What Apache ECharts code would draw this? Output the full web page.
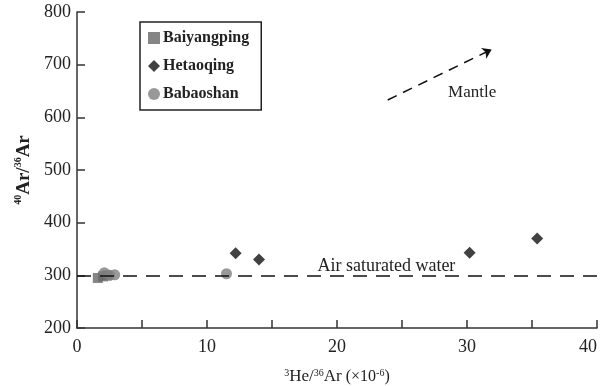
<!DOCTYPE html>
<html>
<head>
<meta charset="utf-8">
<script src="https://cdn.jsdelivr.net/npm/echarts@6/dist/echarts.min.js"></script>
<style>
  html, body { margin: 0; padding: 0; background: #fff; }
  #chart { width: 606px; height: 386px; }
</style>
</head>
<body>
<div id="chart"></div>
<script>
// 数据
const baiyangpingX = [1.6, 2.0, 2.3];
const baiyangpingY = [295, 298, 300];
const hetaoqingX = [12.2, 14.0, 30.2, 35.4];
const hetaoqingY = [342, 330, 343, 370];
const babaoshanX = [2.1, 2.5, 2.9, 11.5];
const babaoshanY = [305, 300, 301, 303];

const xTicks = [0, 10, 20, 30, 40];
const yTicks = [200, 300, 400, 500, 600, 700, 800];
const airWater = 300;
const mantleArrow = [[23.9, 633], [31.9, 729]];

const font = '"Liberation Serif", "DejaVu Serif", serif';
const diamond = 'path://M0,-10 L10,0 L0,10 L-10,0 Z';

function pairs(xs, ys) {
  return xs.map((x, i) => [x, ys[i]]);
}

const chart = echarts.init(document.getElementById('chart'));
const options = {
  animation: false,
  backgroundColor: '#fff',
  grid: { left: 77, right: 9, top: 12, bottom: 58, outerBoundsMode: 'none' },
  legend: {
    orient: 'vertical',
    left: 140,
    top: 22,
    width: 117,
    padding: [8, 12, 8, 8],
    itemGap: 12,
    itemWidth: 12,
    itemHeight: 12,
    borderColor: '#222',
    borderWidth: 1.5,
    textStyle: { fontFamily: font, fontSize: 16, fontWeight: 'bold', color: '#222', padding: [0, 0, 0, -2] },
    data: ['Baiyangping', 'Hetaoqing', 'Babaoshan'],
  },
  xAxis: {
    type: 'value',
    min: xTicks[0],
    max: xTicks[xTicks.length - 1],
    interval: 10,
    minorTick: { show: true, splitNumber: 2, length: 8, lineStyle: { color: '#333', width: 1.5 } },
    axisLine: { lineStyle: { color: '#333', width: 1.5 } },
    axisTick: { inside: true, length: 8, lineStyle: { color: '#333', width: 1.5 } },
    axisLabel: { color: '#222', fontFamily: font, fontSize: 18, margin: 10, alignMaxLabel: 'right' },
    splitLine: { show: false },
    name: '{s|3}He/{s|36}Ar{n| (×10}{s|-6}{n|)}',
    nameLocation: 'middle',
    nameGap: 40,
    nameTextStyle: {
      color: '#222', fontFamily: font, fontSize: 17,
      rich: {
        s: { fontFamily: font, fontSize: 10, verticalAlign: 'top', color: '#222', padding: [0, 0, 6, 0] },
        n: { fontFamily: font, fontSize: 16, color: '#222' },
      },
    },
  },
  yAxis: {
    type: 'value',
    min: yTicks[0],
    max: yTicks[yTicks.length - 1],
    interval: 100,
    axisLine: { lineStyle: { color: '#333', width: 1.5 } },
    axisTick: { inside: true, length: 8, lineStyle: { color: '#333', width: 1.5 } },
    axisLabel: { color: '#222', fontFamily: font, fontSize: 18, margin: 6 },
    splitLine: { show: false },
    name: '{s|40}{b|Ar/}{s|36}{b|Ar}',
    nameLocation: 'middle',
    nameRotate: 90,
    nameGap: 43,
    nameTextStyle: {
      color: '#222', fontFamily: font, fontSize: 18,
      rich: {
        s: { fontFamily: font, fontSize: 10, fontWeight: 'bold', color: '#222', padding: [0, 0, 10, 0] },
        b: { fontFamily: font, fontSize: 19, fontWeight: 'bold', color: '#222' },
      },
    },
  },
  series: [
    {
      name: 'Air saturated water',
      type: 'line',
      data: [],
      markLine: {
        silent: true,
        symbol: 'none',
        lineStyle: { color: '#111', type: [14, 9], width: 1.5 },
        label: { show: false },
        data: [{ yAxis: airWater }],
      },
      markPoint: {
        silent: true,
        symbol: 'circle',
        symbolSize: 1,
        itemStyle: { color: 'rgba(0,0,0,0)' },
        label: { show: true, formatter: 'Air saturated water', color: '#222', fontFamily: font, fontSize: 18 },
        data: [{ coord: [23.8, 318] }],
      },
    },
    {
      name: 'Mantle',
      type: 'line',
      data: [],
      markLine: {
        silent: true,
        symbol: ['none', 'arrow'],
        symbolSize: 9,
        lineStyle: { color: '#111', type: [10, 7], width: 1.5 },
        label: { show: false },
        data: [[{ coord: mantleArrow[0] }, { coord: mantleArrow[1] }]],
      },
      markPoint: {
        silent: true,
        symbol: 'circle',
        symbolSize: 1,
        itemStyle: { color: 'rgba(0,0,0,0)' },
        label: { show: true, formatter: 'Mantle', color: '#222', fontFamily: font, fontSize: 17 },
        data: [{ coord: [30.4, 648] }],
      },
    },
    {
      name: 'Baiyangping',
      type: 'scatter',
      symbol: 'rect',
      symbolSize: 10,
      itemStyle: { color: '#666' },
      data: pairs(baiyangpingX, baiyangpingY),
    },
    {
      name: 'Hetaoqing',
      type: 'scatter',
      symbol: diamond,
      symbolSize: 12,
      itemStyle: { color: '#111' },
      data: pairs(hetaoqingX, hetaoqingY),
    },
    {
      name: 'Babaoshan',
      type: 'scatter',
      symbol: 'circle',
      symbolSize: 11,
      itemStyle: { color: '#808080' },
      data: pairs(babaoshanX, babaoshanY),
    },
  ],
};
chart.setOption(options);
</script>
</body>
</html>
